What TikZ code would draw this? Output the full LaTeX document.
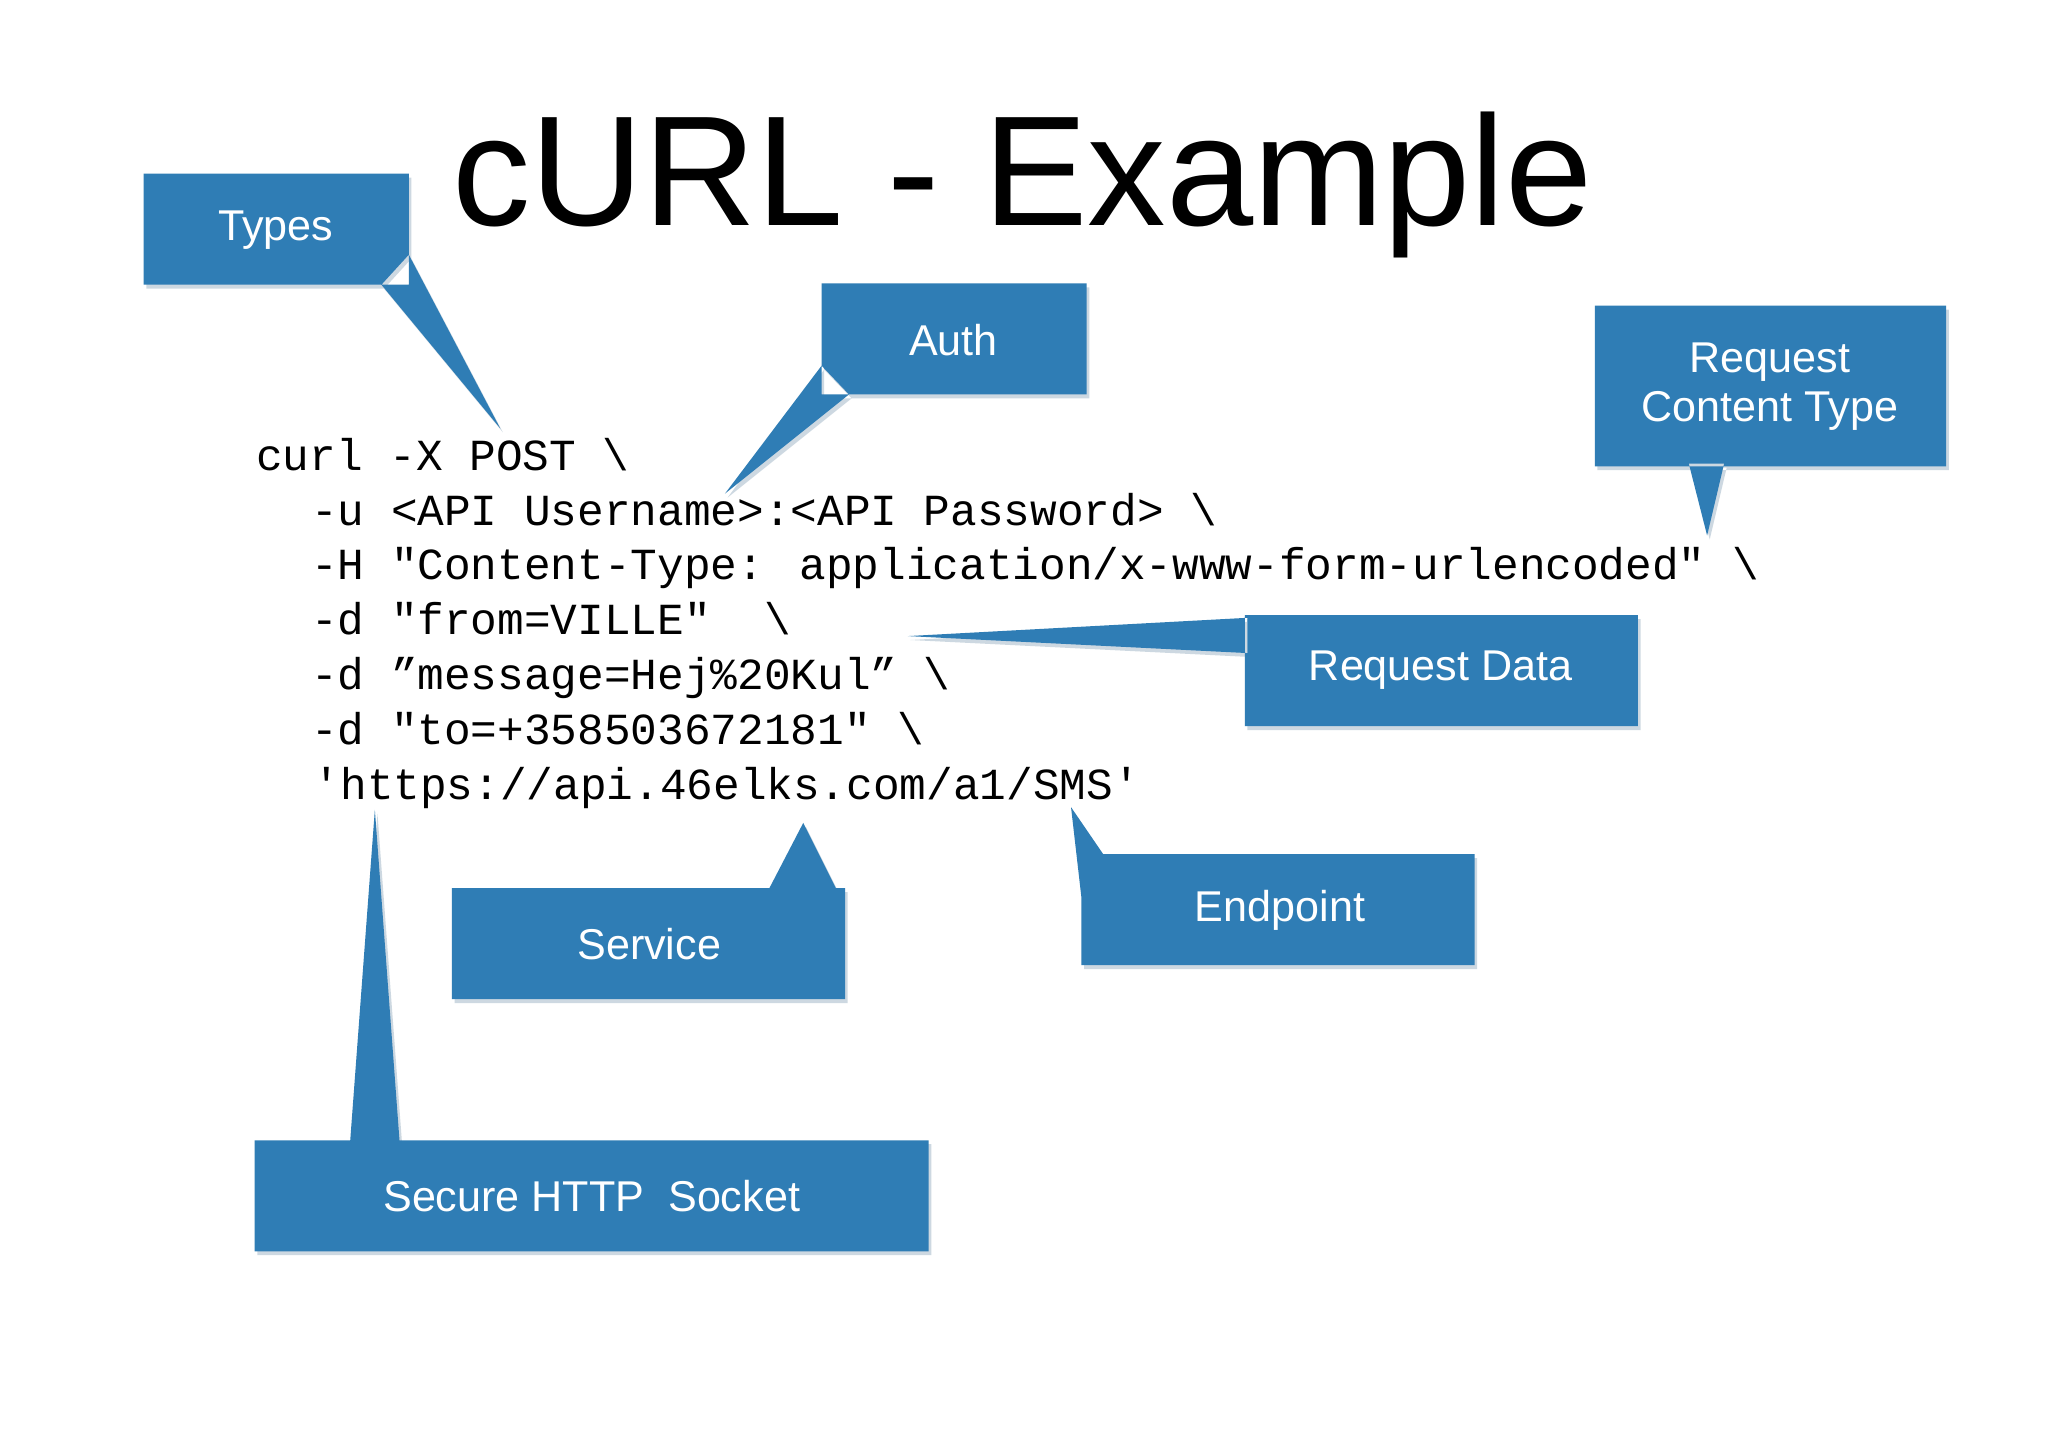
\documentclass[tikz,border=0pt]{standalone}
\usepackage{fontspec}
\setmainfont{Liberation Sans}
\newfontfamily\codefont{Liberation Mono}
\begin{document}
\begin{tikzpicture}[x=1pt,y=-1pt,
  call/.style={fill=calloutblue,draw=none,drop shadow/.style={}},
  lbl/.style={text=white,font=\fontsize{33}{38}\selectfont,align=center},
  code/.style={anchor=base west,inner sep=0pt,font=\codefont\fontsize{34}{40}\selectfont}]
\definecolor{calloutblue}{HTML}{2F7DB5}
\definecolor{shadowc}{HTML}{9DB3C4}
\useasboundingbox (0,0) rectangle (1568,1108);
\fill[white] (0,0) rectangle (1568,1108);
\node[font=\fontsize{120}{130}\selectfont,anchor=base] (title) at (783,173) {cURL - Example};
% code
\node[code] (l1) at (196,360) {curl -X POST \textbackslash};
\node[code] (l2) at (238,402) {-u <API Username>:<API Password> \textbackslash};
\node[code] (l3) at (238,444) {-H "Content-Type: application/x-www-form-urlencoded" \textbackslash};
\node[code] (l4) at (238,486) {-d "from=VILLE"\ \ \textbackslash};
\node[code] (l5) at (238,528) {-d ”message=Hej\%20Kul” \textbackslash};
\node[code] (l6) at (238,570) {-d "to=+358503672181" \textbackslash};
\node[code] (l7) at (240,612) {'https://api.46elks.com/a1/SMS'};
% callouts: shadow then body
\newcommand{\callout}[3]{%
  \fill[shadowc,opacity=0.5,shift={(2,3)}] #1;
  \fill[calloutblue] #1;}
\callout{(110,133) rectangle (313,218) (292,218) -- (313,195) -- (383,328) -- cycle}{}{}
\node[lbl] (types) at (211,176) {Types};
\callout{(629,217) rectangle (832,302) (629,280) -- (650,302) -- (555,378) -- cycle}{}{}
\node[lbl] (auth) at (730,260) {Auth};
\callout{(1221,234) rectangle (1490,357) (1293,355) -- (1320,355) -- (1307,410) -- cycle}{}{}
\node[lbl] (rct) at (1355,296) {Request\\Content Type};
\callout{(953,471) rectangle (1254,556) (955,473) -- (955,500) -- (695,487) -- cycle}{}{}
\node[lbl] (rd) at (1103,513) {Request Data};
\callout{(346,680) rectangle (647,765) (588,682) -- (641,682) -- (615,630) -- cycle}{}{}
\node[lbl] (svc) at (497,723) {Service};
\callout{(828,654) rectangle (1129,739) (830,705) -- (846,656) -- (820,618) -- cycle}{}{}
\node[lbl] (ep) at (980,697) {Endpoint};
\callout{(195,873) rectangle (711,958) (268,875) -- (306,875) -- (287,620) -- cycle}{}{}
\node[lbl] (shs) at (453,916) {Secure HTTP\ \ Socket};
\end{tikzpicture}
\end{document}
